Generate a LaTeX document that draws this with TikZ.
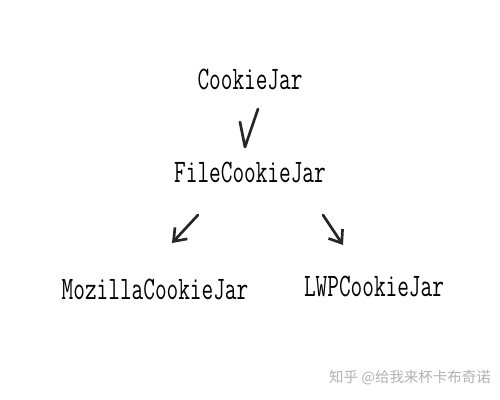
\documentclass[tikz,border=0pt]{standalone}
\usepackage{fontspec}
\newfontfamily\cjkfont{Noto Sans CJK SC}
\usetikzlibrary{arrows.meta}
\newcommand{\tallname}[1]{\scalebox{1}[1.45]{#1}}

\begin{document}
\begin{tikzpicture}[x=0.025cm,y=-0.025cm,
  jar/.style={font=\fontsize{16.1pt}{17pt}\ttfamily, inner sep=0pt},
  hand/.style={line width=1.9pt, black!85, line cap=round, line join=round},
  barb/.style={-{Straight Barb[length=8pt,width=12pt]}},
  wmark/.style={font=\cjkfont\fontsize{10.3pt}{12pt}\selectfont, text=black!30, inner sep=0pt}]
\fill[white] (0,0) rectangle (500,400);
\useasboundingbox (0,0) rectangle (500,400);

\node[jar] (cj) at (250,79) {\tallname{CookieJar}};
\node[jar] (fcj) at (250,172) {\tallname{FileCookieJar}};
\node[jar] (mcj) at (155,289) {\tallname{MozillaCookieJar}};
\node[jar] (lcj) at (374,286) {\tallname{LWPCookieJar}};

% arrow ends
\coordinate (a1s) at ([shift={(8,30)}]cj.center);
\coordinate (a1t) at ([shift={(-5,-25)}]fcj.center);
\coordinate (a1h) at ([shift={(-10,-50)}]fcj.center);
\coordinate (a2s) at ([shift={(-52,43)}]fcj.center);
\coordinate (a2t) at ([shift={(17,-46)}]mcj.center);
\coordinate (a3s) at ([shift={(73,43)}]fcj.center);
\coordinate (a3t) at ([shift={(-31,-41)}]lcj.center);

\draw[hand] (a1s) -- (a1t) -- (a1h);
\draw[hand,barb] (a2s) -- (a2t);
\draw[hand,barb] (a3s) -- (a3t);

\node[wmark] (wm) at (410,378) {知乎 @给我来杯卡布奇诺};
\end{tikzpicture}
\end{document}
